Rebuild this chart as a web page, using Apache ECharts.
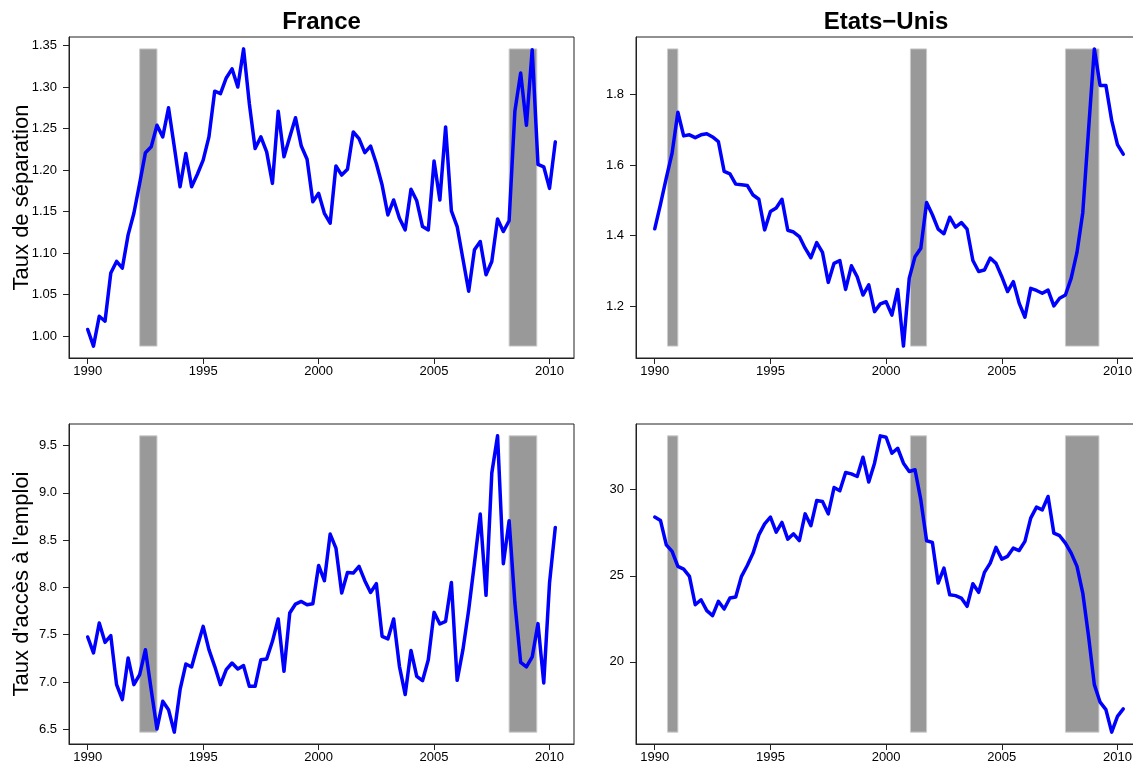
<!DOCTYPE html>
<html>
<head>
<meta charset="utf-8">
<script src="https://cdn.jsdelivr.net/npm/echarts@6/dist/echarts.min.js"></script>
<style>
html,body{margin:0;padding:0;background:#fff;}
#chart{width:1133px;height:763px;}
</style>
</head>
<body>
<div id="chart"></div>
<script>
// Quarterly time index: 1990Q1 .. 2010Q2
const startYear = 1990;
const nQuarters = 82;
const quarters = [];
for (let i = 0; i < nQuarters; i++) quarters.push(startYear + i / 4);

// France – taux de séparation
const frSep = [1.008,0.988,1.024,1.018,1.076,1.090,1.082,1.122,1.148,1.184,
  1.221,1.228,1.254,1.240,1.275,1.228,1.180,1.220,1.180,1.195,
  1.212,1.240,1.295,1.292,1.311,1.322,1.300,1.346,1.280,1.226,
  1.240,1.222,1.184,1.271,1.216,1.240,1.263,1.229,1.213,1.162,
  1.172,1.148,1.136,1.205,1.194,1.201,1.246,1.238,1.221,1.229,
  1.208,1.182,1.146,1.164,1.142,1.128,1.177,1.163,1.132,1.128,
  1.211,1.164,1.252,1.151,1.132,1.093,1.054,1.104,1.114,1.074,
  1.090,1.141,1.126,1.139,1.271,1.317,1.254,1.345,1.207,1.204,
  1.178,1.234];

// Etats-Unis – taux de séparation
const usSep = [1.419,1.489,1.564,1.634,1.750,1.683,1.686,1.678,1.686,1.689,
  1.680,1.667,1.582,1.575,1.546,1.544,1.542,1.515,1.503,1.416,
  1.468,1.478,1.503,1.415,1.410,1.397,1.364,1.337,1.380,1.352,
  1.267,1.321,1.329,1.247,1.314,1.283,1.231,1.260,1.184,1.206,
  1.212,1.174,1.247,1.086,1.279,1.340,1.364,1.494,1.459,1.418,
  1.405,1.452,1.424,1.437,1.418,1.329,1.298,1.302,1.336,1.321,
  1.283,1.241,1.269,1.208,1.168,1.250,1.244,1.236,1.245,1.200,
  1.222,1.231,1.279,1.352,1.465,1.700,1.930,1.826,1.826,1.727,
  1.658,1.631];

// France – taux d'accès à l'emploi
const frFind = [7.476,7.307,7.624,7.419,7.490,6.972,6.814,7.254,6.972,7.078,
  7.342,6.919,6.504,6.796,6.708,6.470,6.919,7.190,7.159,7.377,
  7.588,7.342,7.166,6.972,7.131,7.201,7.138,7.173,6.954,6.954,
  7.236,7.243,7.430,7.666,7.113,7.729,7.824,7.852,7.817,7.828,
  8.232,8.071,8.564,8.416,7.941,8.158,8.152,8.222,8.071,7.947,
  8.039,7.482,7.455,7.666,7.166,6.867,7.334,7.060,7.014,7.236,
  7.736,7.613,7.641,8.053,7.018,7.342,7.764,8.258,8.775,7.916,
  9.208,9.602,8.250,8.705,7.835,7.208,7.159,7.265,7.617,6.990,
  8.046,8.634];

// Etats-Unis – taux d'accès à l'emploi
const usFind = [28.41,28.21,26.80,26.42,25.55,25.39,24.97,23.32,23.61,22.98,
  22.69,23.52,23.07,23.71,23.77,24.97,25.60,26.32,27.38,28.02,
  28.41,27.54,28.10,27.13,27.44,27.05,28.60,27.91,29.37,29.32,
  28.60,30.13,29.94,31.00,30.92,30.77,31.89,30.45,31.54,33.13,
  33.05,32.12,32.41,31.54,31.06,31.16,29.41,27.04,26.94,24.58,
  25.45,23.90,23.85,23.71,23.23,24.54,24.04,25.20,25.74,26.65,
  25.97,26.13,26.61,26.47,27.00,28.35,28.99,28.83,29.61,27.48,
  27.33,26.90,26.32,25.55,24.00,21.49,18.68,17.66,17.23,15.92,
  16.84,17.27];

// Recessions (start, end) in decimal years
const frRecessions = [[1992.25, 1993.0], [2008.25, 2009.45]];
const usRecessions = [[1990.55, 1991.0], [2001.05, 2001.75], [2007.75, 2009.2]];

// Tick values
const xTicks = [1990, 1995, 2000, 2005, 2010];
const frSepTicks = [1.00, 1.05, 1.10, 1.15, 1.20, 1.25, 1.30, 1.35];
const usSepTicks = [1.2, 1.4, 1.6, 1.8];
const frFindTicks = [6.5, 7.0, 7.5, 8.0, 8.5, 9.0, 9.5];
const usFindTicks = [20, 25, 30];

// Titles
const colTitles = ['France', 'Etats\u2212Unis'];
const rowTitles = ['Taux de séparation', "Taux d'accès à l'emploi"];

const FONT = "'Liberation Sans', Arial, Helvetica, sans-serif";

function ext(arr) {
  const mn = Math.min(...arr), mx = Math.max(...arr);
  const r = mx - mn;
  return [mn - 0.04 * r, mx + 0.04 * r, mn, mx];
}

const panels = [
  {grid: {left: 69, top: 37, width: 505, height: 321}, y: frSep, ticks: frSepTicks, dec: 2, rec: frRecessions},
  {grid: {left: 636, top: 37, width: 506, height: 321}, y: usSep, ticks: usSepTicks, dec: 1, rec: usRecessions},
  {grid: {left: 69, top: 424, width: 505, height: 320}, y: frFind, ticks: frFindTicks, dec: 1, rec: frRecessions},
  {grid: {left: 636, top: 424, width: 506, height: 320}, y: usFind, ticks: usFindTicks, dec: 0, rec: usRecessions}
];

const xr = ext(quarters);
const grids = [], xAxes = [], yAxes = [], series = [];
panels.forEach((p, k) => {
  grids.push(Object.assign({show: true, borderColor: '#222', borderWidth: 1, backgroundColor: 'transparent',
    containLabel: false, outerBoundsMode: 'none'}, p.grid));
  xAxes.push({
    type: 'value', gridIndex: k, min: xr[0], max: xr[1],
    axisLine: {show: true, onZero: false, lineStyle: {color: '#222', width: 1}},
    axisTick: {show: true, inside: false, length: 6, lineStyle: {color: '#222'}, customValues: xTicks},
    axisLabel: {show: true, margin: 7, fontSize: 13, color: '#000', fontFamily: FONT, customValues: xTicks,
      formatter: v => String(Math.round(v))},
    splitLine: {show: false}
  });
  const yr = ext(p.y);
  yAxes.push({
    type: 'value', gridIndex: k, min: yr[0], max: yr[1],
    axisLine: {show: true, onZero: false, lineStyle: {color: '#222', width: 1}},
    axisTick: {show: true, inside: false, length: 6, lineStyle: {color: '#222'}, customValues: p.ticks},
    axisLabel: {show: true, margin: 12, fontSize: 13, color: '#000', fontFamily: FONT, customValues: p.ticks,
      formatter: v => Number(v).toFixed(p.dec)},
    splitLine: {show: false}
  });
  series.push({
    type: 'line', xAxisIndex: k, yAxisIndex: k,
    data: quarters.map((q, i) => [q, p.y[i]]),
    showSymbol: false, symbol: 'none',
    lineStyle: {color: '#0000ff', width: 3.5, join: 'round', cap: 'round'},
    z: 5,
    markArea: {
      silent: true,
      itemStyle: {color: '#999999', borderColor: '#cccccc', borderWidth: 1, opacity: 1},
      data: p.rec.map(r => [{coord: [r[0], yr[2]]}, {coord: [r[1], yr[3]]}])
    }
  });
});

const graphics = [
  {type: 'text', x: 321.5, y: 22.5, style: {text: colTitles[0], font: "bold 24px " + FONT, fill: '#000', align: 'center', verticalAlign: 'middle'}},
  {type: 'text', x: 886, y: 22.5, style: {text: colTitles[1], font: "bold 24px " + FONT, fill: '#000', align: 'center', verticalAlign: 'middle'}},
  {type: 'text', x: 22, y: 197.5, rotation: Math.PI / 2, style: {text: rowTitles[0], font: "22px " + FONT, fill: '#000', align: 'center', verticalAlign: 'middle'}},
  {type: 'text', x: 22, y: 584, rotation: Math.PI / 2, style: {text: rowTitles[1], font: "22px " + FONT, fill: '#000', align: 'center', verticalAlign: 'middle'}}
];

const chart = echarts.init(document.getElementById('chart'), null, {renderer: 'canvas'});
chart.setOption({
  animation: false,
  backgroundColor: '#fff',
  grid: grids,
  xAxis: xAxes,
  yAxis: yAxes,
  series: series,
  graphic: graphics
});
</script>
</body>
</html>
